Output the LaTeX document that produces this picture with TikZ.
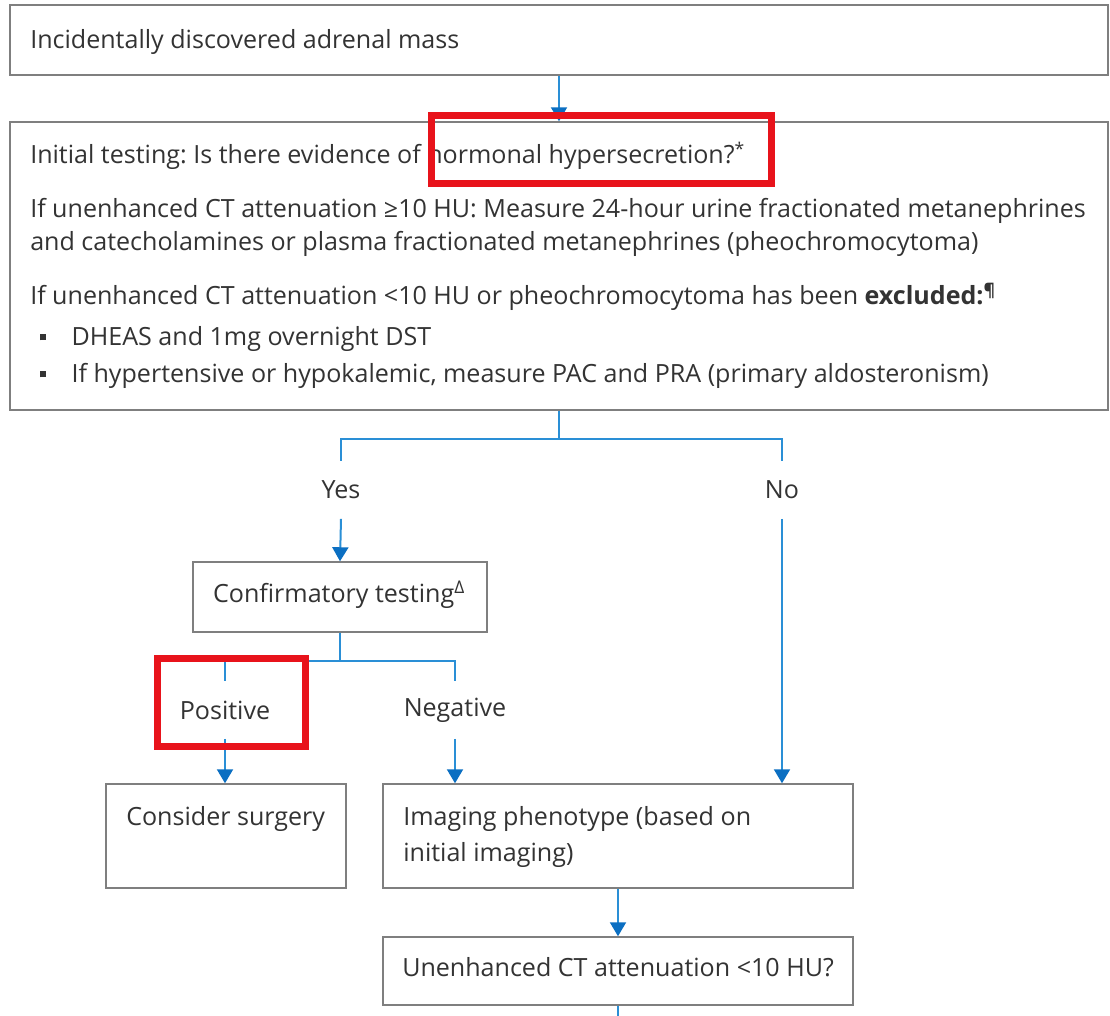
\documentclass[tikz,border=0pt]{standalone}
\usepackage{fontspec}
\setmainfont{Open Sans}
\usetikzlibrary{arrows.meta,fit}
\definecolor{boxgray}{HTML}{7F7F7F}
\definecolor{lineblue}{HTML}{2A8FD6}
\definecolor{tipblue}{HTML}{0B6FC2}
\definecolor{hlred}{HTML}{E8131B}
\definecolor{txtgray}{HTML}{333333}
\frenchspacing
\begin{document}
\begin{tikzpicture}[x=0.75pt,y=-0.75pt,
  box/.style={draw=boxgray, line width=1.1pt, rectangle, inner sep=0pt},
  redbox/.style={draw=hlred, line width=5.2pt, rectangle, inner sep=0pt},
  txt/.style={inner sep=0pt, text=txtgray, font=\fontsize{18.8}{22}\selectfont},
  lbl/.style={inner sep=0pt, text=txtgray, font=\fontsize{18.8}{22}\selectfont, minimum height=43pt},
  conn/.style={draw=lineblue, line width=1.5pt},
  arr/.style={conn, -{Triangle[width=12pt,length=10.5pt,fill=tipblue,color=tipblue]}}
]
\useasboundingbox (0,0) rectangle (1110,1016);
\fill[white] (0,0) rectangle (1110,1016);

% boxes
\node[box, fit={(10,5) (1108,75)}] (b1) {};
\node[box, fit={(10,122) (1108,410)}] (b2) {};
\node[box, fit={(193,562) (487,632)}] (b3) {};
\node[box, fit={(106,784) (346,888)}] (b4) {};
\node[box, fit={(383,784) (853,888)}] (b5) {};
\node[box, fit={(383,937) (853,1005)}] (b6) {};

% texts
\node[txt, anchor=base west] (t1) at (30,49) {Incidentally discovered adrenal mass};
\node[txt, anchor=base west] (t2a) at (30,164) {Initial testing: Is there evidence of hormonal hypersecretion?\textsuperscript{*}};
\node[txt, anchor=base west] (t2b) at (30,218) {If unenhanced CT attenuation ≥10 HU: Measure 24-hour urine fractionated metanephrines};
\node[txt, anchor=base west] (t2c) at (30,251) {and catecholamines or plasma fractionated metanephrines (pheochromocytoma)};
\node[txt, anchor=base west] (t2d) at (30,305) {If unenhanced CT attenuation <10 HU or pheochromocytoma has been \textbf{excluded:\textsuperscript{¶}}};
\node[txt, anchor=base west] (t2e) at (40,345) {\rule[3.5pt]{4.5pt}{4.5pt}\hspace{19pt}DHEAS and 1mg overnight DST};
\node[txt, anchor=base west] (t2f) at (40,382) {\rule[3.5pt]{4.5pt}{4.5pt}\hspace{19pt}If hypertensive or hypokalemic, measure PAC and PRA (primary aldosteronism)};
\node[txt, anchor=base] (t3) at (339,602) {Confirmatory testing\textsuperscript{Δ}};
\node[txt, anchor=base west] (t4) at (126,825) {Consider surgery};
\node[txt, anchor=base west] (t5a) at (403,825) {Imaging phenotype (based on};
\node[txt, anchor=base west] (t5b) at (403,861) {initial imaging)};
\node[txt, anchor=base] (t6) at (618,976) {Unenhanced CT attenuation <10 HU?};

% branch labels
\node[lbl] (yes) at (341,490) {Yes};
\node[lbl] (no) at (782,490) {No};
\node[lbl] (pos) at (225,710) {Positive};
\node[lbl] (neg) at (455,710) {Negative};
\coordinate (bend) at (618,1016);

% connectors
\draw[arr] (b1.south) -- (b2.north);
\draw[conn] (b2.south) -- ++(0,28) -| (yes.north);
\draw[conn] (b2.south) -- ++(0,28) -| (no.north);
\draw[arr] (yes.south) -- (b3.north);
\draw[arr] (no.south) -- (no.south |- b5.north);
\draw[conn] (b3.south) -- ++(0,28) -| (pos.north);
\draw[conn] (b3.south) -- ++(0,28) -| (neg.north);
\draw[arr] (pos.south) -- (pos.south |- b4.north);
\draw[arr] (neg.south) -- (neg.south |- b5.north);
\draw[arr] (b5.south) -- (b6.north);
\draw[conn] (b6.south) -- (bend);

% highlights
\node[redbox, fit={(431.5,115.5) (771.5,183.5)}] (r1) {};
\node[redbox, fit={(157.5,658.5) (305.5,746.5)}] (r2) {};
\end{tikzpicture}
\end{document}
